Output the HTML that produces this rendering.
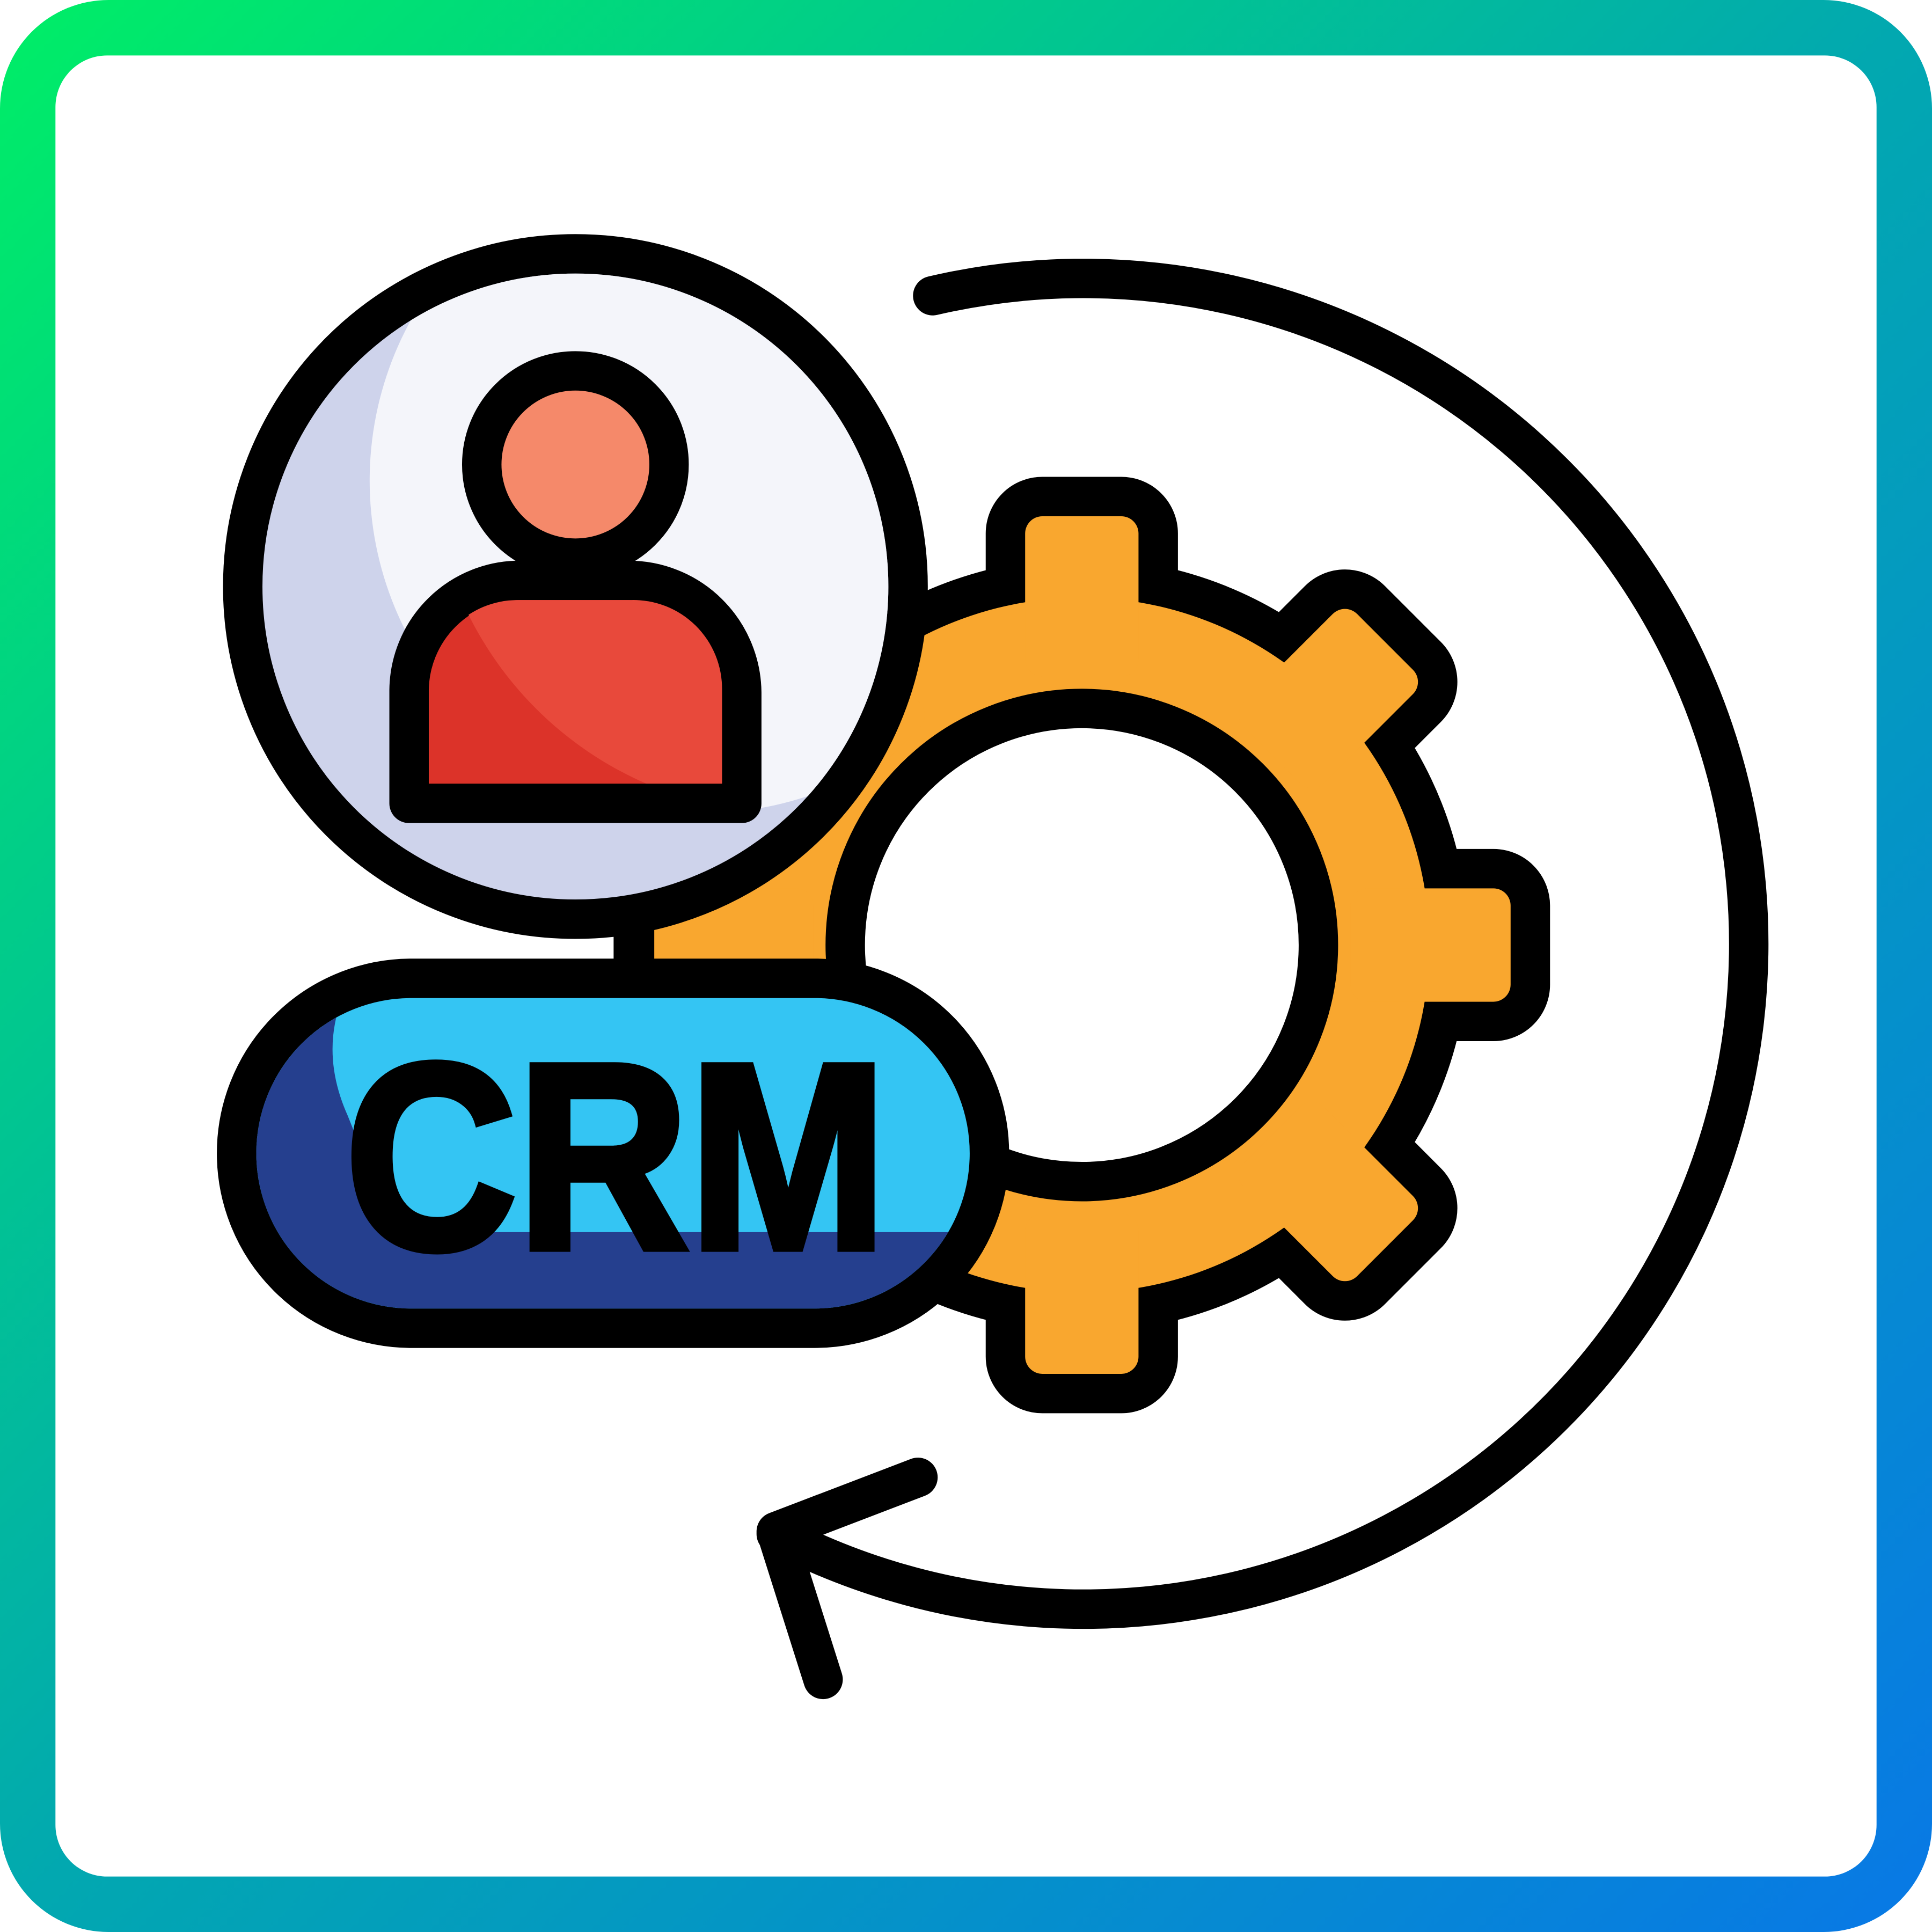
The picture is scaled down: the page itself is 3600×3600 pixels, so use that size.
<!DOCTYPE html>
<html><head><style>html,body{margin:0;padding:0;background:#fff}svg{display:block}</style></head>
<body>
<svg width="3600" height="3600" viewBox="0 0 1568 1568" xmlns="http://www.w3.org/2000/svg">
<defs>
<linearGradient id="fr" x1="0" y1="0" x2="1" y2="1">
<stop offset="0" stop-color="#00EE66"/><stop offset="0.5" stop-color="#02A8B0"/><stop offset="1" stop-color="#0878E6"/>
</linearGradient>
<clipPath id="pc"><circle cx="467" cy="476" r="254"/></clipPath>
<clipPath id="bc"><path d="M348,636 V560 A72,72 0 0 1 420,487 H512 A72,72 0 0 1 586,560 V636 Z"/></clipPath>
<clipPath id="pl"><rect x="208" y="810" width="579" height="252" rx="126"/></clipPath>
<g id="gear">
<circle cx="878" cy="767" r="282"/>
<g id="t"><rect x="832" y="419" width="92" height="130" rx="14"/></g>
<use href="#t" transform="rotate(45 878 767)"/><use href="#t" transform="rotate(90 878 767)"/>
<use href="#t" transform="rotate(135 878 767)"/><use href="#t" transform="rotate(180 878 767)"/>
<use href="#t" transform="rotate(225 878 767)"/><use href="#t" transform="rotate(270 878 767)"/>
<use href="#t" transform="rotate(315 878 767)"/>
</g>
<clipPath id="gc"><use href="#gear"/></clipPath>
</defs>
<rect x="0" y="0" width="1568" height="1568" rx="88" fill="url(#fr)"/>
<rect x="45" y="45" width="1478" height="1478" rx="42" fill="#fff"/>

<path d="M757,240 A540,540 0 1 1 630,1245" fill="none" stroke="#000" stroke-width="32" stroke-linecap="round"/>
<path d="M745,1199 L630,1243 L668,1363" fill="none" stroke="#000" stroke-width="32" stroke-linecap="round" stroke-linejoin="round"/>

<use href="#gear" fill="#000" stroke="#000" stroke-width="64" stroke-linejoin="round"/>
<use href="#gear" fill="#F9A72F"/>
<g clip-path="url(#gc)">
<path d="M560,650 L700,650 L700,1200 L560,1200 Z" fill="#F09820"/>
<path d="M700,930 Q900,980 1160,955 L1200,1200 L700,1200 Z" fill="#F09820"/>
</g>
<circle cx="878" cy="767" r="192" fill="#fff" stroke="#000" stroke-width="32"/>

<rect x="499" y="735" width="32" height="60" fill="#000"/>

<circle cx="467" cy="476" r="270" fill="#CED3EB" stroke="#000" stroke-width="32"/>
<g clip-path="url(#pc)"><circle cx="570" cy="390" r="270" fill="#F4F5FA"/></g>
<circle cx="467" cy="377" r="76" fill="#F5896A" stroke="#000" stroke-width="32"/>
<path d="M332,652 V560 A90,90 0 0 1 422,471 H510 A92,92 0 0 1 602,562 V652 Z" fill="#DC3329" stroke="#000" stroke-width="32" stroke-linejoin="round"/>
<g clip-path="url(#bc)"><circle cx="640" cy="370" r="290" fill="#E8493B"/></g>

<rect x="192" y="794" width="611" height="284" rx="142" fill="#34C5F3" stroke="#000" stroke-width="32"/>
<g clip-path="url(#pl)">
<path d="M200,800 L275,818 Q262,860 282,905 Q300,950 320,1000 L800,1000 L800,1070 L200,1070 Z" fill="#253F8E"/>
</g>
<text x="280" y="1013" textLength="440" lengthAdjust="spacingAndGlyphs" font-family="Liberation Sans, sans-serif" font-size="215" font-weight="bold" fill="#000" stroke="#000" stroke-width="6">CRM</text>
</svg>
</body></html>
